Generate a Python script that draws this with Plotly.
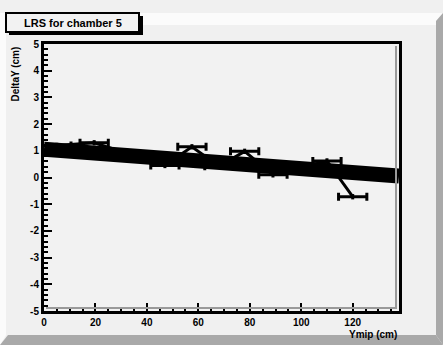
import plotly.graph_objects as go

# ---- data ----
x_vals = [5, 19.5, 47, 57.5, 68, 78, 89, 110, 120]
y_vals = [1.2, 1.3, 0.45, 1.15, 0.42, 0.98, 0.1, 0.62, -0.72]
x_err = [5.5, 5.5, 5.5, 5.5, 5.5, 5.5, 5.5, 5.5, 5.5]
y_err = [0.1, 0.1, 0.1, 0.1, 0.1, 0.1, 0.1, 0.1, 0.1]
fit_p0 = 1.06
fit_p1 = -0.0073
x_range = [0, 138]
y_range = [-5, 5]
x_ticks = [0, 20, 40, 60, 80, 100, 120]
y_ticks = [-5, -4, -3, -2, -1, 0, 1, 2, 3, 4, 5]

W, H = 443, 345
L, R, T, B = 44, 44, 44, 34
PW, PH = W - L - R, H - T - B

def px(x):
    return (x - L) / PW

def py(y):
    return (H - B - y) / PH

FONT = "Liberation Sans, Arial, sans-serif"

fig = go.Figure()

fig.add_trace(go.Scatter(
    x=x_vals, y=y_vals, mode="lines",
    line=dict(color="black", width=3),
    error_x=dict(type="data", array=x_err, color="black", thickness=3, width=4),
    error_y=dict(type="data", array=y_err, color="black", thickness=3, width=0),
    showlegend=False, hoverinfo="skip",
))

fit_x = [x_range[0], x_range[1]]
fit_y = [fit_p0 + fit_p1 * v for v in fit_x]
fig.add_trace(go.Scatter(
    x=fit_x, y=fit_y, mode="lines",
    line=dict(color="black", width=15),
    showlegend=False, hoverinfo="skip",
))

shapes = []
# canvas bevels
shapes.append(dict(type="path", xref="paper", yref="paper", layer="below",
                   path=f"M {px(0)},{py(13)} L {px(443)},{py(13)} L {px(436)},{py(25)} L {px(6)},{py(25)} Z",
                   fillcolor="#fbfbfb", line=dict(width=0)))
shapes.append(dict(type="path", xref="paper", yref="paper", layer="below",
                   path=f"M {px(0)},{py(13)} L {px(6)},{py(25)} L {px(6)},{py(335)} L {px(0)},{py(345)} Z",
                   fillcolor="#fbfbfb", line=dict(width=0)))
shapes.append(dict(type="path", xref="paper", yref="paper", layer="below",
                   path=f"M {px(443)},{py(13)} L {px(443)},{py(345)} L {px(436)},{py(335)} L {px(436)},{py(21)} Z",
                   fillcolor="#a9a9a9", line=dict(width=0)))
shapes.append(dict(type="path", xref="paper", yref="paper", layer="below",
                   path=f"M {px(0)},{py(345)} L {px(443)},{py(345)} L {px(436)},{py(335)} L {px(8)},{py(335)} Z",
                   fillcolor="#a9a9a9", line=dict(width=0)))
# inner frame shadow (grey)
shapes.append(dict(type="line", xref="paper", yref="paper",
                   x0=px(396), x1=px(396), y0=py(46), y1=py(309),
                   line=dict(color="#9a9a9a", width=2)))
shapes.append(dict(type="line", xref="paper", yref="paper",
                   x0=px(46), x1=px(397), y0=py(308), y1=py(308),
                   line=dict(color="#9a9a9a", width=2)))
# title box shadow + box
shapes.append(dict(type="rect", xref="paper", yref="paper",
                   x0=px(9), x1=px(143), y0=py(35), y1=py(16),
                   fillcolor="black", line=dict(width=0)))
shapes.append(dict(type="rect", xref="paper", yref="paper",
                   x0=px(6), x1=px(139), y0=py(32), y1=py(13),
                   fillcolor="#f2f2f2", line=dict(color="black", width=2)))

annotations = [
    dict(text="LRS for chamber 5", xref="paper", yref="paper",
         x=px(73), y=py(23), xanchor="center", yanchor="middle",
         showarrow=False, font=dict(family=FONT, size=11, color="black", weight="bold")),
    dict(text="DeltaY (cm)", xref="paper", yref="paper",
         x=px(15), y=py(45), xanchor="center", yanchor="top", textangle=-90,
         showarrow=False, font=dict(family=FONT, size=10, color="black", weight="bold")),
    dict(text="Ymip (cm)", xref="paper", yref="paper",
         x=px(399), y=py(334), xanchor="right", yanchor="middle",
         showarrow=False, font=dict(family=FONT, size=10, color="black", weight="bold")),
]

fig.update_layout(
    width=W, height=H,
    margin=dict(l=L, r=R, t=T, b=B),
    paper_bgcolor="#f0f0f0", plot_bgcolor="#f2f2f2",
    shapes=shapes, annotations=annotations,
    showlegend=False,
)

fig.update_xaxes(
    range=x_range, tickvals=x_ticks, ticktext=[str(v) for v in x_ticks],
    showgrid=False, zeroline=False,
    showline=True, linecolor="black", linewidth=3, mirror=True,
    ticks="inside", ticklen=8, tickwidth=2, tickcolor="black",
    minor=dict(dtick=5, ticks="inside", ticklen=4, tickwidth=2, tickcolor="black", showgrid=False),
    tickfont=dict(family=FONT, size=10, color="black", weight="bold"),
    ticklabelstandoff=0,
)
fig.update_yaxes(
    range=y_range, tickvals=y_ticks, ticktext=[str(v) for v in y_ticks],
    showgrid=False, zeroline=False,
    showline=True, linecolor="black", linewidth=3, mirror=True,
    ticks="inside", ticklen=8, tickwidth=2, tickcolor="black",
    minor=dict(dtick=0.2, ticks="inside", ticklen=4, tickwidth=2, tickcolor="black", showgrid=False),
    tickfont=dict(family=FONT, size=10, color="black", weight="bold"),
    ticklabelstandoff=0,
)

fig.write_html("out.html", config={"displayModeBar": False},
               post_script="document.body.style.margin='0px';document.body.style.overflow='hidden';")
